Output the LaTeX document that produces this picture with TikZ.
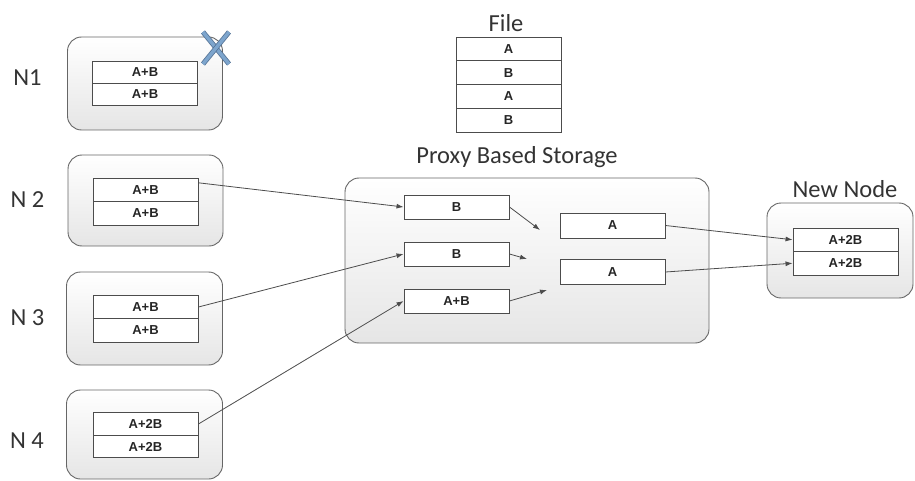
\documentclass[tikz,border=0pt]{standalone}
\usepackage{fontspec}
\setmainfont{Carlito}
\newfontfamily\cellfont{Liberation Sans}
\usetikzlibrary{arrows.meta,calc}
\definecolor{xblue}{RGB}{125,165,205}
\definecolor{xedge}{RGB}{85,115,150}
\tikzset{
  outer/.style={draw=black!60, line width=0.9pt, rounded corners=14pt, top color=white, bottom color=black!10, inner sep=0pt},
  cell/.style={draw=black!70, fill=white, line width=0.9pt, inner sep=0pt, minimum width=105pt,
    font=\cellfont\bfseries\fontsize{13}{15}\selectfont, text=black!85},
  lbl/.style={font=\fontsize{24.5}{28}\selectfont, text=black!80, inner sep=0pt},
  arr/.style={draw=black!70, line width=0.8pt, -{Latex[length=7pt,width=5pt]}}
}
\begin{document}
\begin{tikzpicture}[x=1pt,y=-1pt]
\useasboundingbox (0,0) rectangle (915,481);

% node labels
\node[lbl] (l1) at (27.5,77.5) {N1};
\node[lbl] (l2) at (27.5,200) {N 2};
\node[lbl] (l3) at (27.5,317.5) {N 3};
\node[lbl] (l4) at (27,441) {N 4};

% outer node boxes
\node[outer, minimum width=155pt, minimum height=93pt] (N1) at (145,83.5) {};
\node[outer, minimum width=155pt, minimum height=91pt] (N2) at (145.5,200.5) {};
\node[outer, minimum width=156pt, minimum height=93pt] (N3) at (144.5,318.5) {};
\node[outer, minimum width=156pt, minimum height=89pt] (N4) at (144.5,434.5) {};

% cells in nodes
\node[cell, minimum height=22pt] (n1a) at (145,72) {A+B};
\node[cell, minimum height=22pt] (n1b) at (145,94) {A+B};
\node[cell, minimum height=23.5pt] (n2a) at (145.5,190) {A+B};
\node[cell, minimum height=23.5pt] (n2b) at (145.5,213.5) {A+B};
\node[cell, minimum height=23.5pt] (n3a) at (145.5,307) {A+B};
\node[cell, minimum height=23.5pt] (n3b) at (145.5,330.5) {A+B};
\node[cell, minimum height=22.5pt] (n4a) at (145.5,424) {A+2B};
\node[cell, minimum height=22.5pt] (n4b) at (145.5,446.5) {A+2B};

% failure mark
\foreach \a/\b in {{(203,32)}/{(229,64)},{(229,32)}/{(203,64)}}{
  \draw[xedge, line width=5pt] \a -- \b;
  \draw[xblue, line width=3.4pt] \a -- \b;
}

% file
\node[lbl] (filel) at (506,23) {File};
\node[cell, minimum height=23.75pt] (f1) at (508.5,48.9) {A};
\node[cell, minimum height=23.75pt] (f2) at (508.5,72.6) {B};
\node[cell, minimum height=23.75pt] (f3) at (508.5,96.4) {A};
\node[cell, minimum height=23.75pt] (f4) at (508.5,120.1) {B};

% proxy storage
\node[lbl] (pl) at (517,157) {Proxy Based Storage};
\node[outer, minimum width=364pt, minimum height=165pt] (P) at (527,260.5) {};
\node[cell, minimum height=24pt] (b1) at (456.5,207) {B};
\node[cell, minimum height=24pt] (b2) at (456.5,254) {B};
\node[cell, minimum height=24pt] (ab) at (456.5,301) {A+B};
\node[cell, minimum height=25pt] (a1) at (612.5,225.5) {A};
\node[cell, minimum height=25pt] (a2) at (612.5,272) {A};
\coordinate (c1) at (540,230);
\coordinate (c2) at (527,259);
\coordinate (c3) at (547,290);

% new node
\node[lbl] (nl) at (845,189.5) {New Node};
\node[outer, minimum width=146pt, minimum height=95pt] (NN) at (840,250.5) {};
\node[cell, minimum height=23.5pt] (m1) at (845.5,239.75) {A+2B};
\node[cell, minimum height=23.5pt] (m2) at (845.5,263.25) {A+2B};

% arrows
\draw[arr] ($(n2a.north east)+(0,5)$) -- (b1.west);
\draw[arr] (n3a.east) -- (b2.west);
\draw[arr] (n4a.east) -- (ab.west);
\draw[arr] (b1.east) -- (c1);
\draw[arr] (b2.east) -- (c2);
\draw[arr] (ab.east) -- (c3);
\draw[arr] (a1.east) -- (m1.west);
\draw[arr] (a2.east) -- (m2.west);
\end{tikzpicture}
\end{document}
